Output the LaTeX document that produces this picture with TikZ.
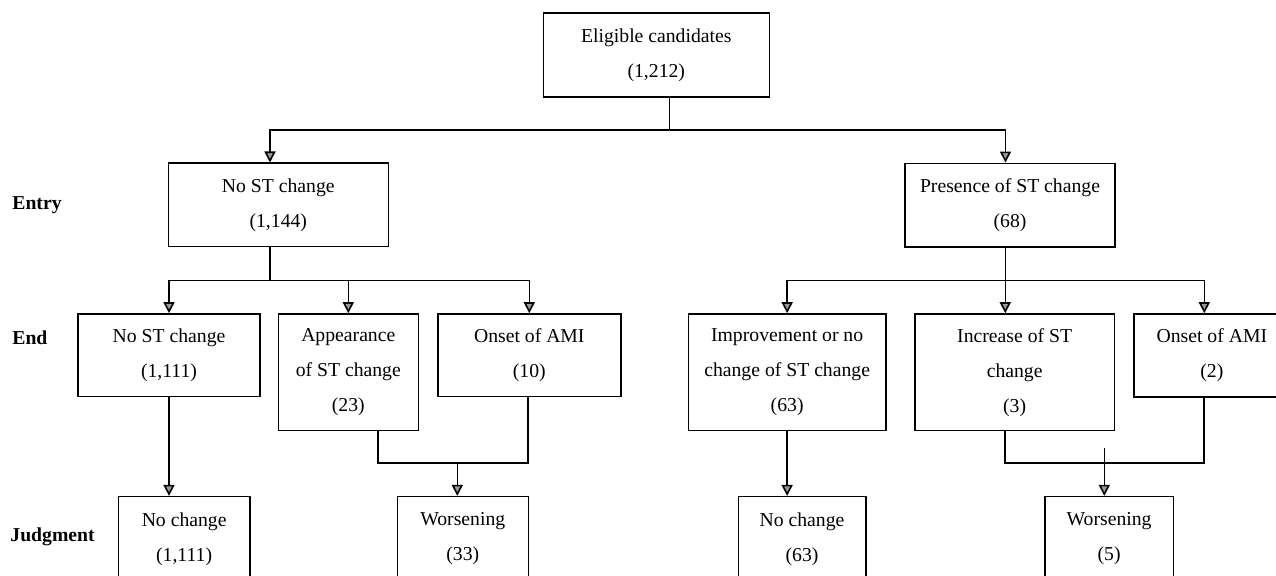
\documentclass[tikz,border=0pt]{standalone}
\usepackage{fontspec}
\setmainfont{Liberation Serif}
\usetikzlibrary{arrows.meta}
\begin{document}
\begin{tikzpicture}[x=0.5pt,y=-0.5pt,
  line/.style={draw=black, line width=0.8pt},
  arr/.style={line, -{Triangle[width=5.5pt,length=5.5pt,fill=gray!80]}},
  box/.style={draw=black, line width=0.8pt, inner sep=0pt, align=center,
    font={\fontsize{9.85}{17.5}\selectfont}},
  rowlabel/.style={anchor=west, inner sep=0pt, font={\fontsize{9.85}{12}\selectfont\bfseries}}]
\useasboundingbox (0,0) rectangle (1276,576);

% boxes
\node[box, minimum width=113pt, minimum height=42pt] (top) at (656.3,55.3) {Eligible candidates\\(1,212)};
\node[box, minimum width=110pt, minimum height=41.7pt] (ent1) at (278.3,205) {No ST change\\(1,144)};
\node[box, minimum width=105pt, minimum height=41.85pt] (ent2) at (1010,205.2) {Presence of ST change\\(68)};

\node[box, minimum width=91pt, minimum height=41.35pt] (e1) at (169,355.35) {No ST change\\(1,111)};
\node[box, minimum width=70pt, minimum height=58.35pt] (e2) at (348.3,372.35) {Appearance\\of ST change\\(23)};
\node[box, minimum width=91.6pt, minimum height=41.35pt] (e3) at (529.3,355.35) {Onset of AMI\\(10)};
\node[box, minimum width=98.85pt, minimum height=58.35pt] (e4) at (787.15,372.35) {Improvement or no\\change of ST change\\(63)};
\node[box, minimum width=99.65pt, minimum height=58.35pt] (e5) at (1014.65,372.35) {Increase of ST\\change\\(3)};
\node[box, minimum width=78.15pt, minimum height=41.65pt] (e6) at (1211.85,355.65) {Onset of AMI\\(2)};

\node[box, minimum width=65.85pt, minimum height=42.15pt] (j1) at (184.15,538.85) {No change\\(1,111)};
\node[box, minimum width=65.5pt, minimum height=42.15pt] (j2) at (462.8,538.85) {Worsening\\(33)};
\node[box, minimum width=63.7pt, minimum height=42.15pt] (j3) at (802,538.85) {No change\\(63)};
\node[box, minimum width=64.15pt, minimum height=42.15pt] (j4) at (1109.15,538.85) {Worsening\\(5)};

% row labels
\node[rowlabel] (lentry) at (12,205) {Entry};
\node[rowlabel] (lend) at (12,338) {End};
\node[rowlabel] (ljudg) at (10,537) {Judgment};

% connectors: top level
\coordinate (a0) at (669.3,130);
\coordinate (aL) at (270,130);
\coordinate (aR) at (1005.5,130);
\draw[line] (top.south -| a0) -- (a0);
\draw[arr] (a0) -- (aL) -- (aL |- ent1.north);
\draw[arr] (a0) -- (aR) -- (aR |- ent2.north);

% left second level
\coordinate (bL) at (270,280.7);
\coordinate (bL3) at (529.3,280.7);
\draw[line] (bL |- ent1.south) -- (bL);
\draw[arr] (bL) -| (e1.north);
\draw[arr] (bL) -| (e2.north);
\draw[arr] (bL) -- (bL3) -- (bL3 |- e3.north);

% right second level
\coordinate (bR) at (1005.3,280.7);
\coordinate (bR6) at (1204.3,280.7);
\draw[line] (bR |- ent2.south) -- (bR);
\draw[arr] (bR) -| (e4.north);
\draw[arr] (bR) -- (bR |- e5.north);
\draw[arr] (bR) -- (bR6) -- (bR6 |- e6.north);

% left judgment
\draw[arr] (e1.south) -- (e1.south |- j1.north);
\coordinate (c1) at (377.7,463.3);
\coordinate (c1b) at (527.7,463.3);
\draw[line] (c1 |- e2.south) -- (c1) -- (c1b) -- (c1b |- e3.south);
\coordinate (c2) at (457.3,463.3);
\draw[arr] (c2) -- (c2 |- j2.north);

% right judgment
\draw[arr] (e4.south) -- (e4.south |- j3.north);
\coordinate (c3) at (1005,463.3);
\coordinate (c3b) at (1204,463.3);
\draw[line] (c3 |- e5.south) -- (c3) -- (c3b) -- (c3b |- e6.south);
\coordinate (c4) at (1104.3,447.7);
\draw[arr] (c4) -- (c4 |- j4.north);
\end{tikzpicture}
\end{document}
